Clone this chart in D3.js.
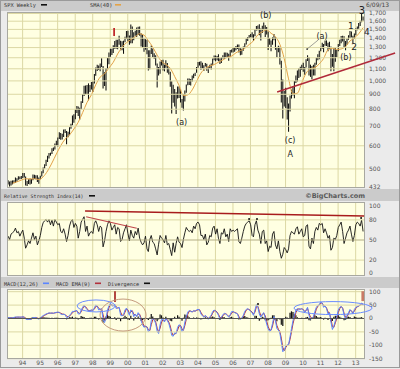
<!DOCTYPE html>
<html>
<head>
<meta charset="utf-8">
<script src="https://cdn.jsdelivr.net/npm/d3@7"></script>
<style>
  body { margin: 0; background: #ebebeb; }
  svg { display: block; font-family: "DejaVu Sans", sans-serif; }
</style>
</head>
<body>
<svg id="chart" width="400" height="369"></svg>
<script>
// monthly bars, Mar 1993 .. Jun 2013
const priceHigh = [
  456, 451, 454, 455, 456, 466, 463, 470, 469, 471,
  482, 482, 469, 453, 459, 462, 460, 477, 476, 474, 474, 466,
  472, 489, 504, 517, 535, 552, 565, 566, 586, 590, 609, 622,
  638, 665, 661, 657, 679, 681, 672, 667, 691, 711, 758, 766,
  795, 817, 814, 806, 849, 899, 958, 961, 964, 977, 964, 987,
  992, 1051, 1106, 1130, 1125, 1142, 1190, 1121, 1067, 1103, 1193, 1246,
  1283, 1284, 1320, 1364, 1376, 1377, 1422, 1366, 1361, 1367, 1411, 1474,
  1478, 1425, 1553, 1528, 1462, 1478, 1517, 1525, 1530, 1450, 1432, 1390,
  1383, 1376, 1268, 1269, 1315, 1286, 1238, 1219, 1142, 1111, 1161, 1173,
  1177, 1132, 1173, 1147, 1106, 1071, 994, 966, 935, 910, 954, 954,
  935, 864, 896, 924, 968, 1015, 1015, 1011, 1040, 1054, 1063, 1112,
  1155, 1158, 1163, 1150, 1127, 1146, 1141, 1109, 1131, 1142, 1188, 1217,
  1217, 1212, 1229, 1191, 1200, 1219, 1246, 1245, 1243, 1233, 1271, 1276,
  1295, 1297, 1310, 1326, 1326, 1288, 1283, 1306, 1339, 1390, 1408, 1431,
  1441, 1461, 1438, 1498, 1535, 1540, 1556, 1504, 1538, 1576, 1545, 1523,
  1471, 1396, 1370, 1404, 1440, 1405, 1292, 1313, 1303, 1167, 1007, 919,
  944, 876, 833, 888, 930, 956, 996, 1039, 1080, 1101, 1113, 1130,
  1150, 1112, 1181, 1220, 1203, 1132, 1120, 1130, 1149, 1196, 1228, 1262,
  1303, 1344, 1333, 1368, 1370, 1346, 1356, 1307, 1230, 1293, 1292, 1270,
  1333, 1378, 1419, 1422, 1415, 1363, 1392, 1427, 1475, 1470, 1421, 1448,
  1509, 1530, 1570, 1598, 1687, 1654
];
const priceLow = [
  441, 434, 437, 441, 445, 446, 450, 457, 459, 460,
  464, 466, 437, 435, 442, 441, 443, 456, 460, 459, 449, 443,
  459, 469, 481, 500, 510, 526, 541, 553, 560, 574, 580, 599,
  594, 631, 627, 628, 640, 661, 605, 639, 649, 684, 703, 716,
  737, 773, 756, 733, 797, 837, 885, 897, 899, 855, 913, 930,
  912, 976, 1038, 1076, 1085, 1075, 1112, 939, 957, 923, 1094, 1135,
  1204, 1221, 1240, 1282, 1282, 1279, 1325, 1268, 1268, 1233, 1349, 1387,
  1361, 1325, 1339, 1339, 1373, 1420, 1408, 1431, 1421, 1305, 1290, 1254,
  1274, 1228, 1081, 1091, 1232, 1203, 1185, 1124, 945, 1040, 1054, 1124,
  1081, 1074, 1105, 1063, 1048, 952, 771, 838, 814, 768, 868, 871,
  840, 807, 789, 847, 908, 962, 965, 960, 991, 1018, 1035, 1062,
  1105, 1124, 1087, 1101, 1076, 1115, 1078, 1060, 1101, 1090, 1127, 1173,
  1163, 1172, 1163, 1137, 1146, 1188, 1183, 1201, 1201, 1168, 1201, 1246,
  1245, 1253, 1268, 1280, 1245, 1219, 1224, 1264, 1290, 1326, 1364, 1396,
  1405, 1398, 1364, 1416, 1480, 1484, 1426, 1370, 1452, 1489, 1406, 1435,
  1270, 1325, 1257, 1324, 1373, 1272, 1200, 1248, 1133, 840, 741, 815,
  805, 735, 667, 783, 867, 888, 869, 979, 992, 1020, 1029, 1086,
  1071, 1045, 1106, 1165, 1040, 1028, 1010, 1040, 1040, 1132, 1173, 1181,
  1257, 1282, 1249, 1314, 1311, 1258, 1283, 1075, 1114, 1075, 1158, 1202,
  1258, 1312, 1341, 1358, 1292, 1267, 1325, 1377, 1397, 1403, 1343, 1385,
  1426, 1485, 1501, 1536, 1581, 1598
];
// SMA(40) read every quarter, Jun 1993 .. Jun 2013
const sma40 = [
  445, 450, 456,
  461, 460, 461, 458,
  468, 490, 522, 560,
  598, 630, 651, 682,
  719, 776, 841, 893,
  966, 1026, 1053, 1103,
  1153, 1232, 1298, 1345,
  1379, 1409, 1444, 1428,
  1367, 1300, 1220, 1162,
  1134, 1100, 1031, 962,
  888, 892, 928, 992,
  1059, 1099, 1120, 1133,
  1154, 1174, 1200, 1211,
  1243, 1264, 1287, 1326,
  1365, 1432, 1466, 1489,
  1449, 1412, 1328, 1187,
  1012, 900, 904, 982,
  1058, 1096, 1106, 1139,
  1188, 1273, 1287, 1276,
  1281, 1305, 1364, 1396,
  1443, 1515
];
const rsi14 = [
  55, 50, 58, 60, 62, 67, 60, 62, 55, 60,
  64, 52, 37, 42, 48, 44, 52, 60, 50, 55, 42, 48,
  56, 68, 75, 78, 80, 76, 80, 72, 79, 70, 80, 76,
  72, 74, 62, 60, 66, 58, 47, 56, 70, 77, 80, 68,
  74, 70, 52, 62, 76, 80, 84, 62, 70, 55, 60, 62,
  59, 74, 78, 72, 62, 70, 68, 39, 48, 62, 72, 78,
  74, 64, 68, 72, 58, 68, 66, 47, 50, 60, 66, 72,
  59, 48, 64, 56, 52, 62, 57, 67, 52, 46, 42, 45,
  55, 36, 32, 50, 56, 46, 44, 36, 27, 43, 56, 52,
  50, 45, 56, 42, 44, 35, 26, 45, 31, 44, 54, 46,
  44, 38, 50, 60, 68, 64, 62, 64, 60, 70, 66, 74,
  76, 72, 56, 56, 50, 58, 42, 46, 56, 54, 67, 70,
  58, 66, 52, 44, 60, 58, 66, 54, 58, 47, 66, 62,
  64, 62, 64, 66, 47, 44, 52, 62, 70, 74, 76, 78,
  72, 56, 54, 72, 78, 64, 58, 44, 62, 64, 44, 48,
  32, 40, 38, 58, 62, 42, 36, 48, 32, 22, 28, 38,
  35, 30, 36, 56, 62, 60, 58, 66, 69, 58, 62, 66,
  54, 56, 70, 72, 40, 36, 52, 44, 62, 68, 64, 74,
  72, 74, 60, 66, 60, 52, 56, 34, 38, 52, 50, 56,
  68, 72, 76, 62, 44, 52, 60, 64, 70, 58, 47, 56,
  72, 76, 74, 70, 79, 62
];
const macd = [
  2, 1, 0, 1, 2, 4, 3, 4, 3, 3,
  5, 2, -4, -6, -5, -6, -3, 2, 1, 2, -2, -4,
  0, 5, 9, 12, 15, 17, 19, 18, 19, 17, 20, 21,
  22, 20, 15, 13, 14, 12, 2, 3, 10, 16, 25, 24,
  27, 28, 15, 15, 30, 40, 48, 38, 32, 25, 28, 30,
  28, 38, 48, 44, 30, 32, 35, -5, -17, 0, 30, 45,
  55, 45, 45, 52, 35, 38, 40, 10, 8, 12, 30, 37,
  24, 10, 30, 25, 5, 15, 5, 20, 10, -10, -25, -35,
  -30, -35, -51, -45, -10, 0, -8, -20, -50, -58, -25, -5,
  -5, -15, 0, -10, -20, -40, -65, -68, -55, -58, -35, -25,
  -30, -50, -45, -15, 5, 22, 28, 25, 22, 28, 25, 30,
  32, 30, 15, 8, 3, 10, 3, -5, 5, 10, 24, 30,
  25, 20, 10, -5, 3, 12, 18, 15, 10, 3, 12, 24,
  24, 20, 18, 15, 0, -5, -1, 10, 25, 32, 35, 30,
  25, 20, 10, 30, 50, 40, 15, 3, 15, 20, 0, -23,
  -40, -50, -45, -20, 5, -10, -40, -45, -56, -90, -126, -120,
  -105, -100, -100, -70, -40, -10, 10, 30, 35, 33, 33, 35,
  30, 20, 30, 40, 10, -5, 0, 5, 25, 40, 47, 50,
  60, 55, 40, 45, 35, 15, 20, -15, -43, -30, -10, 5,
  30, 40, 43, 35, 10, -5, 10, 20, 32, 25, 15, 32,
  40, 43, 45, 50, 55, 50
];
const macdSignal = [
  1, 1, 1, 1, 1, 2, 3, 3, 3, 3,
  4, 3, 0, -3, -5, -5, -4, -1, 1, 1, 0, -2,
  -2, 2, 6, 10, 13, 16, 18, 18, 18, 18, 19, 20,
  21, 21, 18, 15, 14, 13, 7, 4, 7, 13, 20, 24,
  25, 27, 21, 16, 23, 35, 44, 42, 35, 28, 27, 29,
  29, 33, 43, 45, 36, 32, 34, 12, -8, -6, 18, 38,
  50, 49, 46, 49, 42, 37, 39, 22, 10, 10, 22, 34,
  30, 17, 22, 27, 14, 12, 9, 14, 14, 0, -17, -30,
  -32, -33, -44, -47, -25, -6, -5, -14, -38, -53, -38, -15,
  -7, -11, -5, -6, -15, -30, -53, -65, -60, -57, -45, -30,
  -28, -40, -46, -28, -5, 14, 25, 26, 23, 26, 26, 28,
  31, 31, 21, 12, 5, 7, 5, -1, 1, 7, 18, 27,
  27, 22, 14, 2, 0, 8, 15, 16, 12, 6, 9, 19,
  23, 21, 19, 16, 6, -2, -2, 5, 18, 29, 33, 32,
  27, 22, 14, 22, 42, 44, 25, 8, 10, 18, 8, -12,
  -32, -45, -46, -30, -5, -5, -28, -42, -50, -75, -110, -122,
  -110, -102, -100, -80, -52, -22, 0, 20, 32, 34, 33, 34,
  32, 24, 27, 36, 18, 3, 0, 3, 15, 33, 44, 48,
  56, 56, 46, 44, 38, 22, 20, -3, -32, -35, -18, -2,
  20, 35, 42, 38, 18, 2, 5, 15, 28, 27, 19, 26,
  36, 42, 44, 48, 52, 52
];
const divergence = [
  0, 0, -1, 0, 1, 2, 0, 1, 0, 0,
  1, -1, -4, -3, 0, -1, 1, 3, 0, 1, -2, -2,
  2, 3, 3, 2, 2, 1, 1, 0, 1, -1, 1, 1,
  1, -1, -3, -2, 0, -1, -5, -1, 3, 3, 5, 0,
  2, 1, -6, -1, 7, 5, 4, -4, -3, -3, 1, 1,
  -1, 5, 5, -1, -6, 0, 1, -17, -9, 6, 12, 7,
  5, -4, -1, 3, -7, 1, 1, -12, -2, 2, 8, 3,
  -6, -7, 8, -2, -9, 3, -4, 6, -4, -10, -8, -5,
  2, -2, -7, 2, 15, 6, -3, -6, -12, -5, 13, 10,
  2, -4, 5, -4, -5, -10, -12, -3, 5, -1, 10, 5,
  -2, -10, 1, 13, 10, 8, 3, -1, -1, 2, -1, 2,
  1, -1, -6, -4, -2, 3, -2, -4, 4, 3, 6, 3,
  -2, -2, -4, -7, 3, 4, 3, -1, -2, -3, 3, 5,
  1, -1, -1, -1, -6, -3, 1, 5, 7, 3, 2, -2,
  -2, -2, -4, 8, 8, -4, -10, -5, 5, 2, -8, -11,
  -8, -5, 1, 10, 10, -5, -12, -3, -6, -25, -30, -2,
  5, 2, 0, 20, 25, 22, 15, 10, 3, -1, 0, 1,
  -2, -4, 3, 4, -8, -9, -4, 2, 10, 7, 3, 2,
  4, -1, -6, 1, -3, -7, 0, -12, -11, 5, 8, 7,
  10, 5, 1, -3, -8, -7, 5, 5, 4, -2, -4, 6,
  4, 1, 1, 2, 3, -2
];

const priceTicks = [432, 500, 600, 700, 800, 900, 1000, 1100, 1200, 1300, 1400, 1500, 1600, 1700];
const rsiTicks = [0, 20, 50, 80, 100];
const rsiGrid = [20, 50, 80];
const macdTicks = [100, 50, 0, -50, -100, -150];

// wave labels, [text, year, price]
const waveLabels = [
  ['(b)', 2007.9, 1673], ['(a)', 2003.1, 721], ['(c)', 2009.29, 623], ['A', 2009.29, 558],
  ['(a)', 2011.11, 1418], ['(b)', 2012.47, 1202]
];
const countLabels = [['1', 2012.75, 1538], ['2', 2012.94, 1301], ['3', 2013.38, 1731], ['4', 2013.67, 1463]];
const priceTrend = [[2008.55, 913], [2015.28, 1240]];
const pointer = [[2010.26, 1280], [2010.89, 1374]];
const topMark = [[1999.25, 1511], [1999.25, 1418]];
const rsiTopLine = [[1997.59, 92.5], [2013.51, 85]];
const rsiDivLine = [[1997.65, 84], [2000.54, 66.7]];
const rsiDots = [[2006.95, 80.6], [2007.4, 80.6], [2013.34, 82]];
const macdMarks = [[[1999.3, 100], [1999.3, 60], '#a01818', 1.6], [[2013.43, 100], [2013.43, 63], '#c87a66', 2.6]];
const macdDots = [[2007.46, 52]];
// [year, value, rx, ry, colour]
const macdRings = [[1999.76, 11, 23, 16, '#c49a7c'], [1998.22, 45, 19, 6, '#6a8cff'], [2011.74, 37, 39, 6.5, '#6a8cff']];

const W = 400, H = 369, L = 7, R = 365;
const P = { top: 12, bottom: 188 }, Q = { top: 202, bottom: 276 }, M = { top: 289, bottom: 359 };

const months = d3.timeMonth.range(new Date(1993, 2, 1), new Date(2013, 6, 1));
const smaMonths = d3.timeMonth.range(new Date(1993, 5, 1), new Date(2013, 6, 1), 3);
const mid = d => d3.timeDay.offset(d, 14);
const yr = f => {
  const y = Math.floor(f), s = new Date(y, 0, 1), e = new Date(y + 1, 0, 1);
  return new Date(+s + (e - s) * (f - y));
};

const x = d3.scaleTime().domain([new Date(1993, 1, 20), new Date(2013, 6, 25)]).range([L, R]);
const yP = d3.scaleLog().domain([432, 1700]).range([187, 13]);
const yR = d3.scaleLinear().domain([0, 100]).range([273, 206]);
const yM = d3.scaleLinear().domain([0, 100]).range([318, 291.2]);

const svg = d3.select('#chart');
svg.append('rect').attr('width', W).attr('height', H).attr('fill', '#ebebeb');
[[0, 11], [189, 12], [277, 11]].forEach(([y, h]) =>
  svg.append('rect').attr('x', 0).attr('y', y).attr('width', W).attr('height', h).attr('fill', '#cbcbcb'));
svg.append('rect').attr('x', 0.5).attr('y', 0.5).attr('width', W - 1).attr('height', 367)
  .attr('fill', 'none').attr('stroke', '#9a9a9a');

const defs = svg.append('defs');
function panel(id, p) {
  svg.append('rect').attr('x', L).attr('y', p.top).attr('width', R - L).attr('height', p.bottom - p.top)
    .attr('fill', '#ffffe2');
  defs.append('clipPath').attr('id', id).append('rect')
    .attr('x', L).attr('y', p.top).attr('width', R - L).attr('height', p.bottom - p.top);
  // year grid
  const g = svg.append('g').attr('transform', `translate(0,${p.bottom})`)
    .call(d3.axisBottom(x).ticks(d3.timeYear.every(1)).tickSize(-(p.bottom - p.top)).tickFormat(''));
  g.select('.domain').remove();
  g.selectAll('line').attr('stroke', '#dcd8a4');
  return svg.append('g').attr('clip-path', `url(#${id})`);
}
function hgrid(scale, values, colour) {
  const g = svg.append('g').attr('transform', `translate(${R},0)`)
    .call(d3.axisRight(scale).tickValues(values).tickSize(-(R - L)).tickFormat(''));
  g.select('.domain').remove();
  g.selectAll('line').attr('stroke', colour || '#dcd8a4');
  return g;
}
function labels(scale, values, fmt) {
  const g = svg.append('g').attr('transform', `translate(${R},0)`)
    .call(d3.axisRight(scale).tickValues(values).tickSize(0).tickPadding(4).tickFormat(fmt));
  g.select('.domain').remove();
  g.selectAll('text').attr('font-size', 6).attr('fill', '#555').attr('font-family', '"DejaVu Sans", sans-serif');
}
function frame(p) {
  svg.append('rect').attr('x', L + 0.5).attr('y', p.top + 0.5).attr('width', R - L - 1).attr('height', p.bottom - p.top - 1)
    .attr('fill', 'none').attr('stroke', '#a8a8a0');
}

// ---- price panel
const gP = panel('clipP', P);
hgrid(yP, priceTicks.slice(1));
gP.selectAll('line.bar').data(months).join('line').attr('class', 'bar')
  .attr('x1', d => x(mid(d))).attr('x2', d => x(mid(d)))
  .attr('y1', (d, i) => yP(priceHigh[i])).attr('y2', (d, i) => yP(priceLow[i]))
  .attr('stroke', '#111').attr('stroke-width', 1.05);
gP.append('path').datum(sma40)
  .attr('d', d3.line().x((d, i) => x(mid(smaMonths[i]))).y(d => yP(d)).curve(d3.curveMonotoneX))
  .attr('fill', 'none').attr('stroke', '#e3a247').attr('stroke-width', 1);
frame(P);
labels(yP, priceTicks, d3.format(','));

const pt = ([f, v]) => [x(yr(f)), yP(v)];
svg.append('line').attr('x1', pt(priceTrend[0])[0]).attr('y1', pt(priceTrend[0])[1])
  .attr('x2', pt(priceTrend[1])[0]).attr('y2', pt(priceTrend[1])[1])
  .attr('stroke', '#b02a3a').attr('stroke-width', 1.5);
svg.append('line').attr('x1', pt(pointer[0])[0]).attr('y1', pt(pointer[0])[1])
  .attr('x2', pt(pointer[1])[0]).attr('y2', pt(pointer[1])[1])
  .attr('stroke', '#777').attr('stroke-width', 0.7);
svg.append('circle').attr('cx', pt(pointer[0])[0]).attr('cy', pt(pointer[0])[1]).attr('r', 0.9).attr('fill', '#333');
svg.append('line').attr('x1', pt(topMark[0])[0]).attr('y1', pt(topMark[0])[1])
  .attr('x2', pt(topMark[1])[0]).attr('y2', pt(topMark[1])[1])
  .attr('stroke', '#c0282a').attr('stroke-width', 1.8);
svg.selectAll('text.wave').data(waveLabels).join('text').attr('class', 'wave')
  .attr('x', d => x(yr(d[1]))).attr('y', d => yP(d[2])).attr('dy', '0.35em')
  .attr('text-anchor', 'middle').attr('font-size', 8).attr('fill', '#222').text(d => d[0]);
svg.selectAll('text.count').data(countLabels).join('text').attr('class', 'count')
  .attr('x', d => x(yr(d[1]))).attr('y', d => yP(d[2])).attr('dy', '0.35em')
  .attr('text-anchor', 'middle').attr('font-size', d => d[0] === '3' ? 10 : 9).attr('fill', '#222').text(d => d[0]);

// ---- RSI panel
const gR = panel('clipR', Q);
hgrid(yR, rsiGrid).selectAll('line').attr('stroke', (d) => d === 50 ? '#b4ae84' : '#dcd8a4');
gR.append('path').datum(rsi14)
  .attr('d', d3.line().x((d, i) => x(mid(months[i]))).y(d => yR(d)))
  .attr('fill', 'none').attr('stroke', '#111').attr('stroke-width', 0.9);
frame(Q);
labels(yR, rsiTicks, d => String(d));
const rp = ([f, v]) => [x(yr(f)), yR(v)];
[[rsiTopLine, '#a81c1c', 1.6], [rsiDivLine, '#c0464a', 1.1]].forEach(([ln, c, w]) =>
  svg.append('line').attr('x1', rp(ln[0])[0]).attr('y1', rp(ln[0])[1])
    .attr('x2', rp(ln[1])[0]).attr('y2', rp(ln[1])[1]).attr('stroke', c).attr('stroke-width', w));
svg.selectAll('circle.rdot').data(rsiDots).join('circle').attr('class', 'rdot')
  .attr('cx', d => rp(d)[0]).attr('cy', d => rp(d)[1]).attr('r', 1).attr('fill', '#111');

// ---- MACD panel
const gM = panel('clipM', M);
hgrid(yM, macdTicks).selectAll('line').attr('stroke', d => d === 0 ? '#555' : '#dcd8a4');
gM.selectAll('line.hist').data(months).join('line').attr('class', 'hist')
  .attr('x1', d => x(mid(d))).attr('x2', d => x(mid(d)))
  .attr('y1', yM(0)).attr('y2', (d, i) => yM(divergence[i]))
  .attr('stroke', '#111').attr('stroke-width', 1.2);
gM.append('path').datum(macdSignal)
  .attr('d', d3.line().x((d, i) => x(mid(months[i]))).y(d => yM(d)))
  .attr('fill', 'none').attr('stroke', '#b2303c').attr('stroke-width', 1);
gM.append('path').datum(macd)
  .attr('d', d3.line().x((d, i) => x(mid(months[i]))).y(d => yM(d)))
  .attr('fill', 'none').attr('stroke', '#5b86ff').attr('stroke-width', 1);
frame(M);
labels(yM, macdTicks, d => String(d));
const mp = ([f, v]) => [x(yr(f)), yM(v)];
macdMarks.forEach(([a, b, c, w]) =>
  svg.append('line').attr('x1', mp(a)[0]).attr('y1', mp(a)[1]).attr('x2', mp(b)[0]).attr('y2', mp(b)[1])
    .attr('stroke', c).attr('stroke-width', w));
svg.selectAll('circle.mdot').data(macdDots).join('circle').attr('class', 'mdot')
  .attr('cx', d => mp(d)[0]).attr('cy', d => mp(d)[1]).attr('r', 1).attr('fill', '#111');
svg.selectAll('ellipse.ring').data(macdRings).join('ellipse').attr('class', 'ring')
  .attr('cx', d => x(yr(d[0]))).attr('cy', d => yM(d[1])).attr('rx', d => d[2]).attr('ry', d => d[3])
  .attr('fill', 'none').attr('stroke', d => d[4]).attr('stroke-width', 1);

// x axis labels
const gx = svg.append('g').attr('transform', `translate(0,${M.bottom})`)
  .call(d3.axisBottom(x).ticks(d3.timeYear.every(1)).tickSize(0).tickPadding(2).tickFormat(d3.timeFormat('%y')));
gx.select('.domain').remove();
gx.selectAll('text').attr('font-size', 6).attr('fill', '#555').attr('font-family', '"DejaVu Sans", sans-serif');

// headers
const mono = '"DejaVu Sans Mono", monospace';
function header(items, y, size) {
  items.forEach(([t, tx, sw, c]) => {
    svg.append('text').attr('x', tx).attr('y', y).attr('font-family', mono).attr('font-size', size)
      .attr('fill', '#333').text(t);
    svg.append('rect').attr('x', sw).attr('y', y - 3).attr('width', 6).attr('height', 1.6).attr('fill', c);
  });
}
header([['SPX Weekly', 4, 41, '#111'], ['SMA(40)', 90, 115, '#e3a247']], 7, 5.3);
header([['Relative Strength Index(14)', 4, 89, '#111']], 198, 4.9);
header([['MACD(12,26)', 4, 43, '#5b86ff'], ['MACD EMA(9)', 56, 95, '#b2303c'], ['Divergence', 108, 144, '#111']], 285.5, 5.2);
svg.append('text').attr('x', 366).attr('y', 7).attr('font-size', 6).attr('fill', '#444').text('6/09/13');
svg.append('text').attr('x', R).attr('y', 198).attr('text-anchor', 'end').attr('font-size', 6.5)
  .attr('font-weight', 'bold').attr('fill', '#5a5a5a').text('©BigCharts.com');
</script>
</body>
</html>
